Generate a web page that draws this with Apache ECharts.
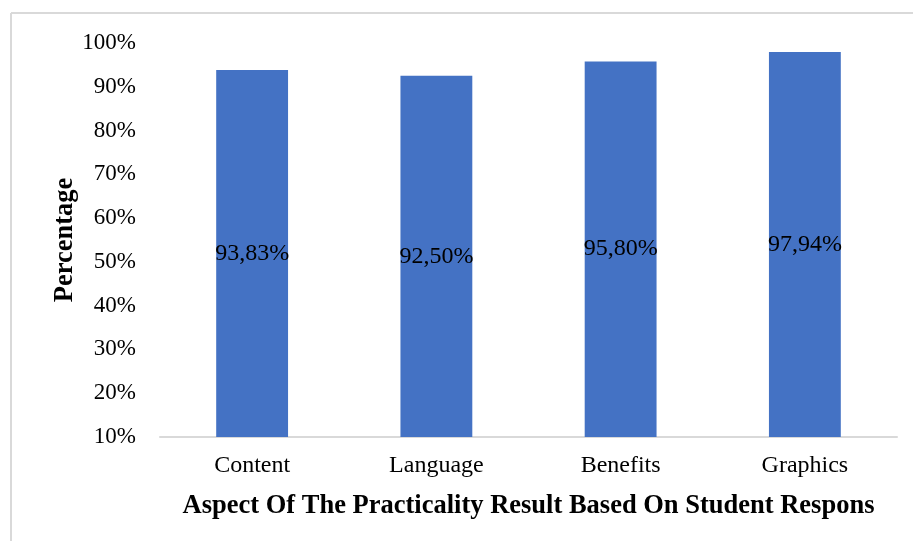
<!DOCTYPE html>
<html>
<head>
<meta charset="utf-8">
<script src="https://cdn.jsdelivr.net/npm/echarts@6/dist/echarts.min.js"></script>
<style>
  html, body { margin: 0; padding: 0; background: #fff; }
  #chart { width: 913px; height: 541px; }
</style>
</head>
<body>
<div id="chart"></div>
<script>
const categories = ['Content', 'Language', 'Benefits', 'Graphics'];
const values = [93.83, 92.50, 95.80, 97.94];
const yMin = 10, yMax = 100, yStep = 10;

const serif = '"Liberation Serif", "Times New Roman", serif';
const fmt = v => v.toFixed(2).replace('.', ',') + '%';

const chart = echarts.init(document.getElementById('chart'));
chart.setOption({
  animation: false,
  grid: { left: 160, right: 16, top: 43, bottom: 104 },
  // frame lines of the cropped picture
  graphic: [
    { type: 'line', shape: { x1: 11, y1: 13, x2: 913, y2: 13 }, style: { stroke: '#d9d9d9', lineWidth: 2 } },
    { type: 'line', shape: { x1: 11, y1: 13, x2: 11, y2: 541 }, style: { stroke: '#d9d9d9', lineWidth: 2 } }
  ],
  xAxis: {
    type: 'category',
    data: categories,
    name: 'Aspect Of The Practicality Result Based On Student Respons',
    nameLocation: 'middle',
    nameGap: 56,
    nameTextStyle: { fontFamily: serif, fontWeight: 'bold', fontSize: 26.5, color: '#000' },
    axisLine: { lineStyle: { color: '#d9d9d9', width: 2 } },
    axisTick: { show: false },
    axisLabel: { fontFamily: serif, fontSize: 24, color: '#000', margin: 17 }
  },
  yAxis: {
    type: 'value',
    min: yMin, max: yMax, interval: yStep,
    name: 'Percentage',
    nameLocation: 'middle',
    nameGap: 81,
    nameMoveOverlap: false,
    nameTextStyle: { fontFamily: serif, fontWeight: 'bold', fontSize: 26.5, color: '#000' },
    axisLine: { show: false },
    axisTick: { show: false },
    splitLine: { show: false },
    axisLabel: { fontFamily: serif, fontSize: 23, color: '#000', margin: 24, formatter: '{value}%' }
  },
  series: [{
    type: 'bar',
    data: values,
    barWidth: '39%',
    itemStyle: { color: '#4472C4' },
    label: {
      show: true,
      position: 'inside',
      fontFamily: serif, fontSize: 24, color: '#000',
      formatter: p => fmt(p.value)
    }
  }]
});
</script>
</body>
</html>
